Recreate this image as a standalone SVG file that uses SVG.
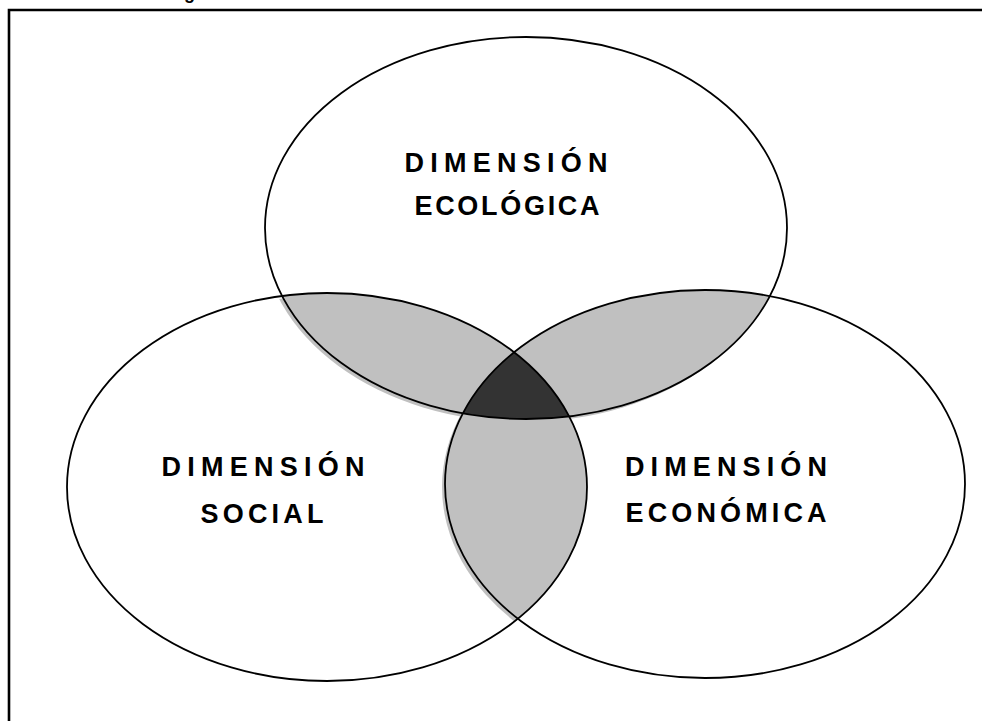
<svg xmlns="http://www.w3.org/2000/svg" width="982" height="721" viewBox="0 0 982 721">
<style>
.ring{fill:none;stroke:#000;stroke-width:1.8}
.lbl{font-family:"Liberation Sans",Arial,sans-serif;font-weight:bold;font-size:27px;fill:#000}
.grey{fill:#c0c0c0}
.dark{fill:#333333}
.title{font-family:"Liberation Sans",Arial,sans-serif;font-weight:bold;font-size:18px;letter-spacing:4px;fill:#000}
</style>
<defs>
<ellipse id="eTop" cx="526" cy="228" rx="261" ry="191"/>
<ellipse id="eLeft" cx="327" cy="487" rx="260" ry="194"/>
<ellipse id="eRight" cx="705" cy="484" rx="260" ry="194"/>
<clipPath id="cTop"><use href="#eTop"/></clipPath>
<clipPath id="cLeft"><use href="#eLeft"/></clipPath>
<clipPath id="cRight"><use href="#eRight"/></clipPath>
</defs>
<text class="title" x="160" y="-1">Figura 1. Las tres dimensiones del desarrollo sostenible</text>
<path d="M9,721 V10 H982" fill="none" stroke="#000" stroke-width="2.6"/>
<g id="shading">
<g transform="translate(-3,3)">
<g clip-path="url(#cTop)"><use href="#eLeft" class="grey"/><use href="#eRight" class="grey"/></g>
<g clip-path="url(#cLeft)"><use href="#eRight" class="grey"/></g>
</g>
<g clip-path="url(#cTop)"><use href="#eLeft" class="grey"/><use href="#eRight" class="grey"/></g>
<g clip-path="url(#cLeft)"><use href="#eRight" class="grey"/></g>
<g clip-path="url(#cTop)"><g clip-path="url(#cLeft)"><use href="#eRight" class="dark"/></g></g>
</g>
<g id="ecologica">
<use href="#eTop" class="ring"/>
<text class="lbl" x="506" y="172" text-anchor="middle" textLength="203" lengthAdjust="spacing">DIMENSIÓN</text>
<text class="lbl" x="507" y="215" text-anchor="middle" textLength="185" lengthAdjust="spacing">ECOLÓGICA</text>
</g>
<g id="social">
<use href="#eLeft" class="ring"/>
<text class="lbl" x="263" y="476" text-anchor="middle" textLength="203" lengthAdjust="spacing">DIMENSIÓN</text>
<text class="lbl" x="262" y="523" text-anchor="middle" textLength="123" lengthAdjust="spacing">SOCIAL</text>
</g>
<g id="economica">
<use href="#eRight" class="ring"/>
<text class="lbl" x="726" y="476" text-anchor="middle" textLength="202" lengthAdjust="spacing">DIMENSIÓN</text>
<text class="lbl" x="726" y="522" text-anchor="middle" textLength="201" lengthAdjust="spacing">ECONÓMICA</text>
</g>
<g id="connectors"/>
</svg>
